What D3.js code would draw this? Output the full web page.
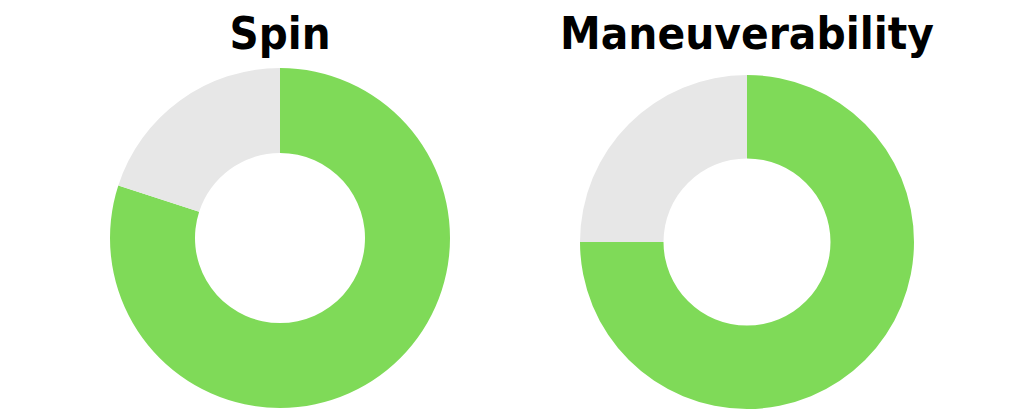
<!DOCTYPE html>
<html>
<head>
    <meta charset="utf-8">
    <script src="https://d3js.org/d3.v7.min.js"></script>
    <style>
        body { margin: 0; background: #fff; }
        .title { font-family: "DejaVu Sans", sans-serif; font-weight: bold; fill: #000; }
    </style>
</head>
<body>
<script>
    // chart data
    const titles = ["Spin", "Maneuverability"];
    const values = [80, 75];          // percent filled (green)
    const maxValue = 100;

    const width = 1024, height = 416;
    const green = "#7fda58", grey = "#e7e7e7";

    // layout per donut
    const centers = [[280, 238], [747, 242]];
    const outerR = [170, 167];
    const innerR = [85, 83.5];
    const titleWidth = [101, 374];

    const svg = d3.select("body")
        .append("svg")
        .attr("width", width)
        .attr("height", height);

    const pie = d3.pie().sort(null).value(d => d.v);

    titles.forEach((t, i) => {
        const g = svg.append("g")
            .attr("transform", "translate(" + centers[i][0] + "," + centers[i][1] + ")");

        const arc = d3.arc().innerRadius(innerR[i]).outerRadius(outerR[i]);
        const slices = pie([
            { v: values[i], c: green },
            { v: maxValue - values[i], c: grey }
        ]);

        g.selectAll("path")
            .data(slices)
            .join("path")
            .attr("d", arc)
            .style("fill", d => d.data.c);

        svg.append("text")
            .attr("class", "title")
            .attr("x", centers[i][0])
            .attr("y", 49)
            .attr("text-anchor", "middle")
            .attr("font-size", 44)
            .attr("textLength", titleWidth[i])
            .attr("lengthAdjust", "spacingAndGlyphs")
            .text(t);
    });
</script>
</body>
</html>
